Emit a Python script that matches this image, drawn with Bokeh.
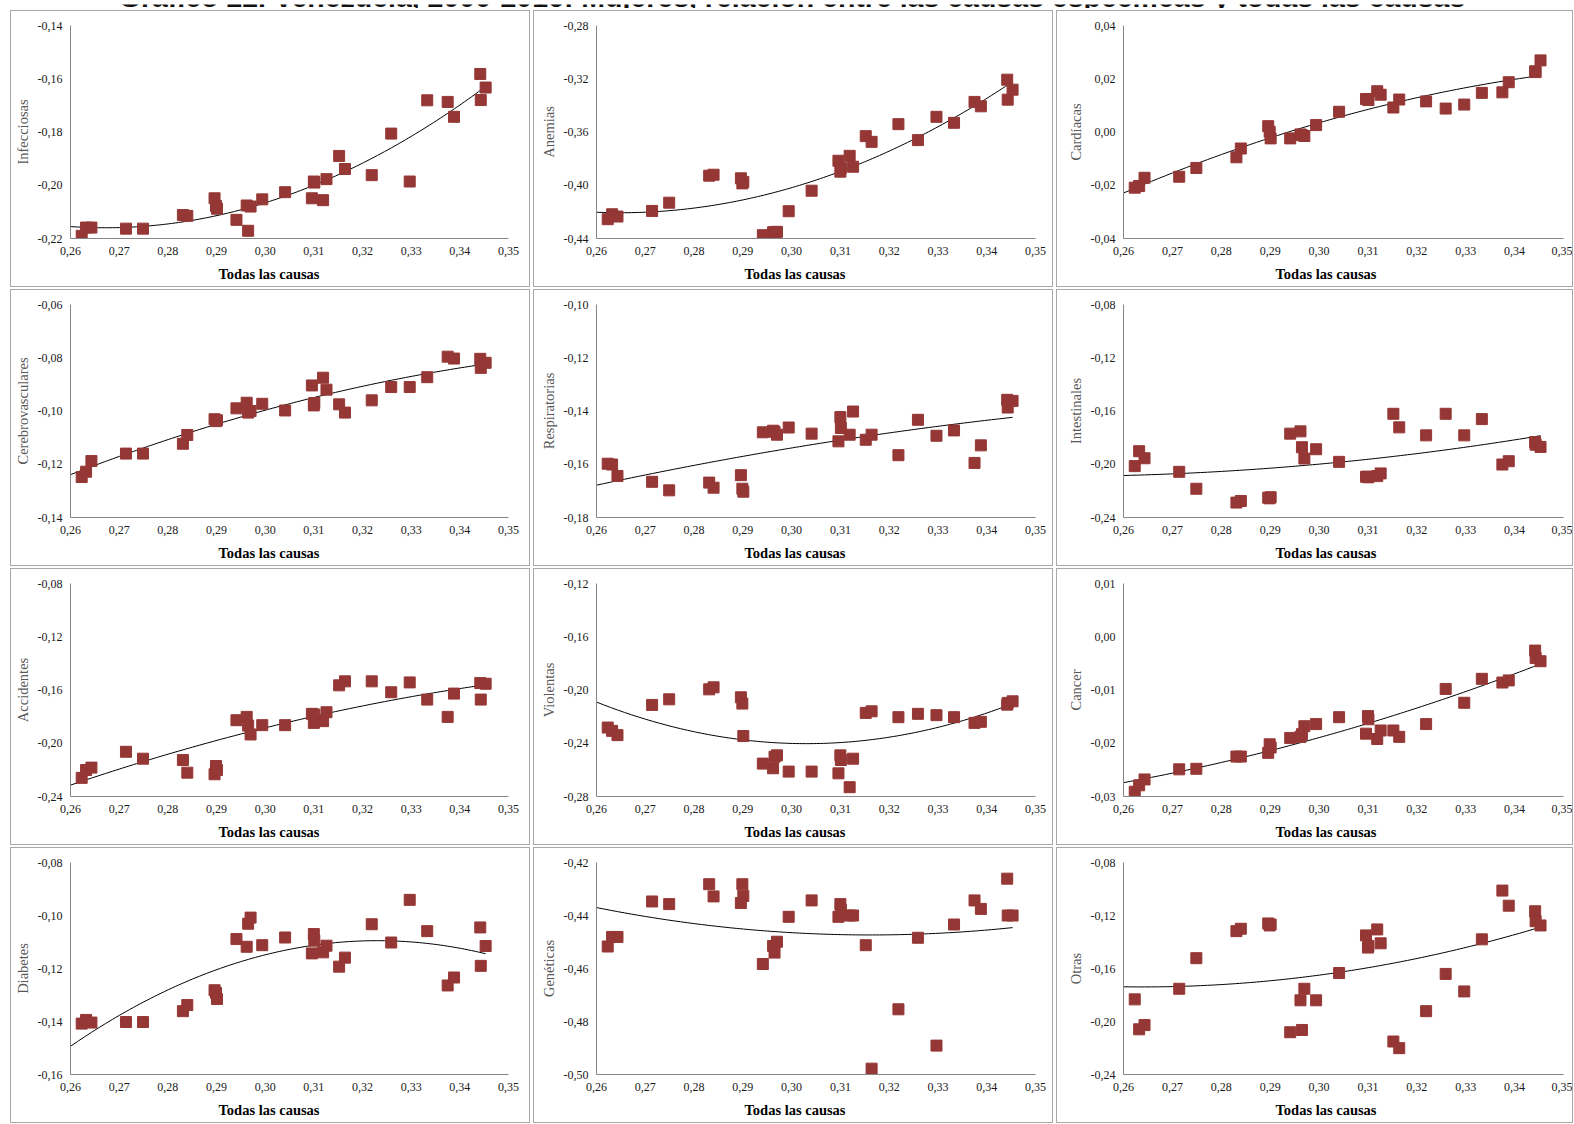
import numpy as np
from bokeh.plotting import figure
from bokeh.layouts import column, row
from bokeh.models import FixedTicker, CustomJSTickFormatter, Range1d, Title, Spacer
from bokeh.core.properties import value
from bokeh.embed import file_html
from bokeh.resources import INLINE

TITLE = "Gráfico 22. Venezuela, 2000-2016: Mujeres, relación entre las causas específicas y todas las causas"
X_LABEL = "Todas las causas"

x_ticks = [0.26, 0.27, 0.28, 0.29, 0.30, 0.31, 0.32, 0.33, 0.34, 0.35]

todas = [0.2623, 0.2632, 0.2643, 0.2714, 0.2749, 0.2831, 0.2840, 0.2896, 0.2899, 0.2901,
         0.2941, 0.2962, 0.2965, 0.2970, 0.2994, 0.3041, 0.3096, 0.3100, 0.3101, 0.3119,
         0.3126, 0.3152, 0.3164, 0.3219, 0.3259, 0.3297, 0.3333, 0.3375, 0.3388, 0.3442,
         0.3443, 0.3453]

infecciosas = [-0.2190, -0.2159, -0.2159, -0.2163, -0.2163, -0.2112, -0.2115, -0.2049, -0.2078, -0.2088,
               -0.2130, -0.2076, -0.2171, -0.2080, -0.2053, -0.2026, -0.2049, -0.1986, -0.1990, -0.2056,
               -0.1977, -0.1890, -0.1939, -0.1962, -0.1806, -0.1986, -0.1681, -0.1687, -0.1743, -0.1582,
               -0.1680, -0.1633]
anemias = [-0.4255, -0.4218, -0.4235, -0.4193, -0.4131, -0.3928, -0.3921, -0.3948, -0.3986, -0.3975,
           -0.4375, -0.4353, -0.4355, -0.4350, -0.4195, -0.4041, -0.3816, -0.3898, -0.3870, -0.3779,
           -0.3861, -0.3631, -0.3674, -0.3541, -0.3661, -0.3486, -0.3531, -0.3374, -0.3407, -0.3207,
           -0.3357, -0.3282]
cardiacas = [-0.0209, -0.0203, -0.0172, -0.0168, -0.0135, -0.0095, -0.0062, 0.0022, 0.0001, -0.0024,
             -0.0024, -0.0009, -0.0012, -0.0015, 0.0026, 0.0076, 0.0124, 0.0122, 0.0120, 0.0153,
             0.0140, 0.0092, 0.0122, 0.0115, 0.0088, 0.0103, 0.0147, 0.0149, 0.0187, 0.0228,
             0.0225, 0.0269]
cerebrovasculares = [-0.1248, -0.1228, -0.1188, -0.1160, -0.1160, -0.1123, -0.1090, -0.1031, -0.1038, -0.1035,
                     -0.0990, -0.0969, -0.1006, -0.1000, -0.0973, -0.0998, -0.0904, -0.0979, -0.0970, -0.0875,
                     -0.0920, -0.0975, -0.1006, -0.0960, -0.0910, -0.0910, -0.0873, -0.0796, -0.0803, -0.0804,
                     -0.0838, -0.0819]
respiratorias = [-0.1598, -0.1601, -0.1644, -0.1666, -0.1698, -0.1669, -0.1688, -0.1641, -0.1692, -0.1703,
                 -0.1480, -0.1474, -0.1478, -0.1489, -0.1462, -0.1485, -0.1514, -0.1423, -0.1464, -0.1489,
                 -0.1402, -0.1508, -0.1489, -0.1566, -0.1433, -0.1493, -0.1473, -0.1595, -0.1529, -0.1358,
                 -0.1387, -0.1362]
intestinales = [-0.2014, -0.1902, -0.1955, -0.2057, -0.2184, -0.2288, -0.2276, -0.2251, -0.2256, -0.2248,
                -0.1770, -0.1753, -0.1872, -0.1957, -0.1887, -0.1982, -0.2094, -0.2094, -0.2098, -0.2089,
                -0.2069, -0.1621, -0.1723, -0.1783, -0.1621, -0.1783, -0.1661, -0.2002, -0.1977, -0.1833,
                -0.1853, -0.1870]
accidentes = [-0.2260, -0.2201, -0.2183, -0.2064, -0.2116, -0.2126, -0.2221, -0.2233, -0.2171, -0.2201,
              -0.1827, -0.1802, -0.1867, -0.1934, -0.1864, -0.1864, -0.1779, -0.1847, -0.1784, -0.1834,
              -0.1767, -0.1565, -0.1535, -0.1535, -0.1617, -0.1543, -0.1672, -0.1802, -0.1627, -0.1548,
              -0.1672, -0.1553]
violentas = [-0.2282, -0.2307, -0.2339, -0.2112, -0.2070, -0.1995, -0.1980, -0.2055, -0.2102, -0.2346,
             -0.2553, -0.2588, -0.2501, -0.2491, -0.2613, -0.2613, -0.2626, -0.2491, -0.2526, -0.2730,
             -0.2516, -0.2172, -0.2160, -0.2204, -0.2179, -0.2189, -0.2204, -0.2247, -0.2239, -0.2110,
             -0.2097, -0.2085]
cancer = [-0.0291, -0.0279, -0.0268, -0.0249, -0.0248, -0.0225, -0.0225, -0.0218, -0.0202, -0.0208,
          -0.0190, -0.0188, -0.0183, -0.0168, -0.0164, -0.0151, -0.0182, -0.0149, -0.0155, -0.0192,
          -0.0176, -0.0176, -0.0188, -0.0164, -0.0098, -0.0124, -0.0079, -0.0086, -0.0082, -0.0026,
          -0.0040, -0.0046]
diabetes = [-0.1408, -0.1394, -0.1404, -0.1402, -0.1402, -0.1361, -0.1338, -0.1282, -0.1292, -0.1315,
            -0.1089, -0.1118, -0.1031, -0.1008, -0.1112, -0.1083, -0.1143, -0.1070, -0.1095, -0.1139,
            -0.1114, -0.1193, -0.1159, -0.1033, -0.1102, -0.0941, -0.1059, -0.1264, -0.1234, -0.1045,
            -0.1190, -0.1115]
geneticas = [-0.4517, -0.4481, -0.4481, -0.4347, -0.4357, -0.4282, -0.4328, -0.4353, -0.4282, -0.4326,
             -0.4583, -0.4515, -0.4540, -0.4499, -0.4405, -0.4343, -0.4405, -0.4357, -0.4378, -0.4400,
             -0.4400, -0.4512, -0.4978, -0.4754, -0.4484, -0.4891, -0.4434, -0.4343, -0.4375, -0.4261,
             -0.4400, -0.4400]
otras = [-0.1833, -0.2059, -0.2027, -0.1753, -0.1522, -0.1318, -0.1300, -0.1260, -0.1275, -0.1268,
         -0.2081, -0.1840, -0.2064, -0.1753, -0.1840, -0.1634, -0.1350, -0.1442, -0.1430, -0.1305,
         -0.1410, -0.2151, -0.2201, -0.1922, -0.1641, -0.1773, -0.1380, -0.1012, -0.1126, -0.1168,
         -0.1243, -0.1275]

y_ticks_infecciosas = [-0.22, -0.20, -0.18, -0.16, -0.14]
y_ticks_anemias = [-0.44, -0.40, -0.36, -0.32, -0.28]
y_ticks_cardiacas = [-0.04, -0.02, 0.00, 0.02, 0.04]
y_ticks_cerebro = [-0.14, -0.12, -0.10, -0.08, -0.06]
y_ticks_respiratorias = [-0.18, -0.16, -0.14, -0.12, -0.10]
y_ticks_intestinales = [-0.24, -0.20, -0.16, -0.12, -0.08]
y_ticks_accidentes = [-0.24, -0.20, -0.16, -0.12, -0.08]
y_ticks_violentas = [-0.28, -0.24, -0.20, -0.16, -0.12]
y_ticks_cancer = [-0.03, -0.02, -0.01, 0.00, 0.01]
y_ticks_diabetes = [-0.16, -0.14, -0.12, -0.10, -0.08]
y_ticks_geneticas = [-0.50, -0.48, -0.46, -0.44, -0.42]
y_ticks_otras = [-0.24, -0.20, -0.16, -0.12, -0.08]

panels = [
    ("Infecciosas", infecciosas, y_ticks_infecciosas),
    ("Anemias", anemias, y_ticks_anemias),
    ("Cardíacas", cardiacas, y_ticks_cardiacas),
    ("Cerebrovasculares", cerebrovasculares, y_ticks_cerebro),
    ("Respiratorias", respiratorias, y_ticks_respiratorias),
    ("Intestinales", intestinales, y_ticks_intestinales),
    ("Accidentes", accidentes, y_ticks_accidentes),
    ("Violentas", violentas, y_ticks_violentas),
    ("Cancer", cancer, y_ticks_cancer),
    ("Diabetes", diabetes, y_ticks_diabetes),
    ("Genéticas", geneticas, y_ticks_geneticas),
    ("Otras", otras, y_ticks_otras),
]

MARKER = "#953735"
SERIF = "Liberation Serif"
fmt_js = "var s = (Math.abs(tick) < 1e-9 ? 0 : tick).toFixed(2); return s.replace('.', ',');"

# per-column geometry (outer box width, left border, right border)
COL_W = [520, 520, 517]
COL_LEFT = [59, 62, 66]
COL_RIGHT = [23, 19, 11]
ROW_H = [277, 277, 277, 276]
XTITLE_OFFSET = [148, 148, 152]   # left edge of the x title, from the plot-area left edge


def make_panel(name, ys, yt, ci, ri):
    p = figure(width=COL_W[ci], height=ROW_H[ri], output_backend="svg", toolbar_location=None,
               x_range=Range1d(x_ticks[0], x_ticks[-1]), y_range=Range1d(yt[0], yt[-1]),
               min_border_left=COL_LEFT[ci], min_border_right=COL_RIGHT[ci],
               min_border_top=14, min_border_bottom=46,
               background_fill_color="white", border_fill_color="white")
    p.outline_line_color = None
    p.grid.visible = False
    p.styles = {"border": "1px solid #a8a8a8"}
    for ax in (p.xaxis[0], p.yaxis[0]):
        ax.axis_line_color = "#868686"
        ax.axis_line_width = 1
        ax.major_tick_line_color = None
        ax.minor_tick_line_color = None
        ax.major_label_text_font = SERIF
        ax.major_label_text_font_size = "12px"
        ax.major_label_text_color = "#1a1a1a"
        ax.formatter = CustomJSTickFormatter(code=fmt_js)
    p.xaxis[0].ticker = FixedTicker(ticks=x_ticks)
    p.yaxis[0].ticker = FixedTicker(ticks=yt)
    p.xaxis[0].major_label_standoff = 2
    p.yaxis[0].major_label_standoff = 2
    p.yaxis[0].axis_label = name
    p.yaxis[0].axis_label_text_font = SERIF
    p.yaxis[0].axis_label_text_font_style = "normal"
    p.yaxis[0].axis_label_text_font_size = "14.5px"
    p.yaxis[0].axis_label_text_color = "#595959"
    p.yaxis[0].axis_label_standoff = 4

    # x-axis title, centred on the whole panel as in the source (not on the plot area)
    p.add_layout(Title(text=X_LABEL, align="left", offset=XTITLE_OFFSET[ci], standoff=13,
                       text_font=SERIF, text_font_style="bold", text_font_size="14.5px",
                       text_color="black"), "below")

    # polynomial (order 2) trendline, as in the source chart
    coef = np.polyfit(np.array(todas), np.array(ys), 2)
    xt = np.linspace(x_ticks[0], max(todas), 120)
    p.line(xt, np.polyval(coef, xt), line_color="black", line_width=1)
    p.scatter(todas, ys, marker="square", size=11, fill_color=MARKER, line_color=MARKER)
    return p


figs = [make_panel(n, y, t, i % 3, i // 3) for i, (n, y, t) in enumerate(panels)]

grid_w = sum(COL_W) + 2 * 3
strip = figure(width=grid_w, height=8, output_backend="svg", toolbar_location=None,
               x_range=Range1d(0, 1), y_range=Range1d(0, 1), min_border=0,
               x_axis_location=None, y_axis_location=None)
strip.outline_line_color = None
strip.grid.visible = False
strip.text(x=[0.5], y=[0], text=[TITLE], text_align="center", text_baseline="bottom",
           text_font=value("Liberation Sans"), text_font_style="bold", text_font_size="28.5px",
           text_color="#111111")

rows = [row(figs[i:i + 3], spacing=3) for i in range(0, 12, 3)]
grid = column([strip] + rows, spacing=2)
layout = row([Spacer(width=10, height=10), grid], spacing=0)

open("out.html", "w").write(file_html(layout, INLINE))
